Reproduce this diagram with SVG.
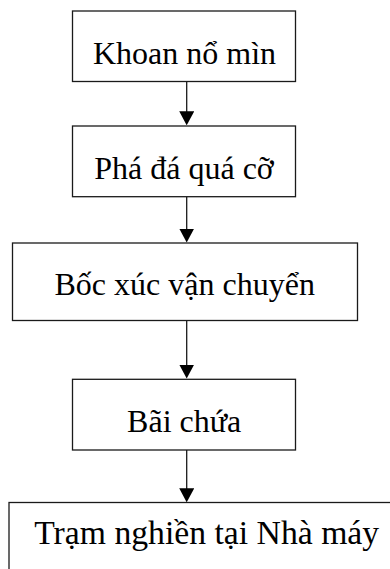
<svg xmlns="http://www.w3.org/2000/svg" width="390" height="569" viewBox="0 0 390 569">
  <style>
    .box { fill: #ffffff; stroke: #1a1a1a; stroke-width: 1.3; }
    .lbl { font-family: "Liberation Serif", "Times New Roman", serif; font-size: 32px; fill: #000000; text-anchor: middle; }
    .big { font-size: 33.7px; }
    .edge { stroke: #1a1a1a; stroke-width: 1.3; fill: none; marker-end: url(#arrow); }
  </style>
  <defs>
    <marker id="arrow" markerUnits="userSpaceOnUse" viewBox="0 0 14 15" markerWidth="14" markerHeight="15" refX="10" refY="7.5" orient="auto">
      <path d="M0,0 L14,7.5 L0,15 z" fill="#000000"/>
    </marker>
  </defs>
  <rect width="390" height="569" fill="#ffffff"/>
  <g id="connectors">
    <line class="edge" x1="186.7" y1="81.5" x2="186.7" y2="121.3"/>
    <line class="edge" x1="186.7" y1="196.7" x2="186.7" y2="238.5"/>
    <line class="edge" x1="186.7" y1="320.5" x2="186.7" y2="374.5"/>
    <line class="edge" x1="186.7" y1="450" x2="186.7" y2="498.3"/>
  </g>
  <g id="node1">
    <rect class="box" x="72.5" y="11" width="223" height="70.5"/>
    <text class="lbl" x="184.5" y="64">Khoan nổ mìn</text>
  </g>
  <g id="node2">
    <rect class="box" x="72.5" y="126" width="223" height="70.7"/>
    <text class="lbl" x="184" y="179.3">Phá đá quá cỡ</text>
  </g>
  <g id="node3">
    <rect class="box" x="12.5" y="243" width="345" height="77.5"/>
    <text class="lbl" x="184.7" y="295">Bốc xúc vận chuyển</text>
  </g>
  <g id="node4">
    <rect class="box" x="72.5" y="379.3" width="223" height="70.7"/>
    <text class="lbl" x="184.2" y="431.7">Bãi chứa</text>
  </g>
  <g id="node5">
    <rect class="box" x="9" y="502.5" width="400" height="80"/>
    <text class="lbl big" x="206.7" y="544">Trạm nghiền tại Nhà máy</text>
  </g>
</svg>
